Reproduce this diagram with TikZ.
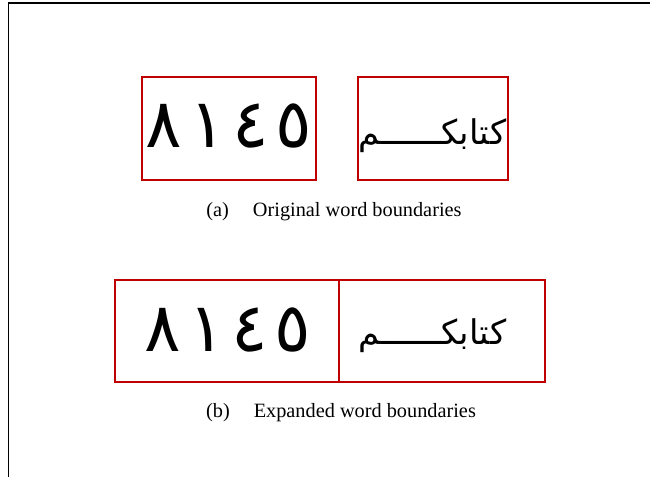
\documentclass[tikz,border=0pt]{standalone}
\usepackage{fontspec}
\setmainfont{Liberation Serif}
\TeXXeTstate=1
\newfontfamily\arabicfont[Script=Arabic]{DejaVu Sans}
\newfontfamily\digitfont[Script=Arabic, LetterSpace=10]{DejaVu Sans}
\definecolor{boxred}{HTML}{C00000}
\tikzset{
  wbox/.style={draw=boxred, line width=1.8pt, inner sep=0pt},
  digits/.style={inner sep=0pt, text=black, font=\digitfont\fontsize{68}{68}\selectfont},
  word/.style={inner sep=0pt, text=black, font=\arabicfont\fontsize{34}{34}\selectfont},
  caption/.style={inner sep=0pt, font=\fontsize{20.3}{24}\selectfont},
  frame/.style={line width=1.8pt, black}
}
\begin{document}
\begin{tikzpicture}[x=1pt, y=-1pt]
  \useasboundingbox (0,0) rectangle (650,477);
  % page frame (top and left edges only)
  \coordinate (ftl) at (8.5,3);
  \coordinate (ftr) at (650,3);
  \coordinate (fbl) at (8.5,477);
  \draw[frame] (ftr) -- (ftl) -- (fbl);

  % (a) original word boundaries
  \node[wbox, minimum width=174pt, minimum height=103pt] (a1) at (229,128.5) {};
  \node[wbox, minimum width=150pt, minimum height=103pt] (a2) at (433,128.5) {};
  \node[digits] (ad) at (229,126) {٨١٤٥};
  \node[word] (aw) at (432.5,136) {\beginR كتابكــــــم\endR};
  \node[caption] (capa) at (334,212) {(a)\hspace{24pt}Original word boundaries};

  % (b) expanded word boundaries
  \node[wbox, minimum width=224pt, minimum height=102pt] (b1) at (227,331) {};
  \node[wbox, minimum width=206pt, minimum height=102pt] (b2) at (442,331) {};
  \node[digits] (bd) at (228,330) {٨١٤٥};
  \node[word] (bw) at (432.5,336) {\beginR كتابكــــــم\endR};
  \node[caption] (capb) at (341,413) {(b)\hspace{24pt}Expanded word boundaries};
\end{tikzpicture}
\end{document}
